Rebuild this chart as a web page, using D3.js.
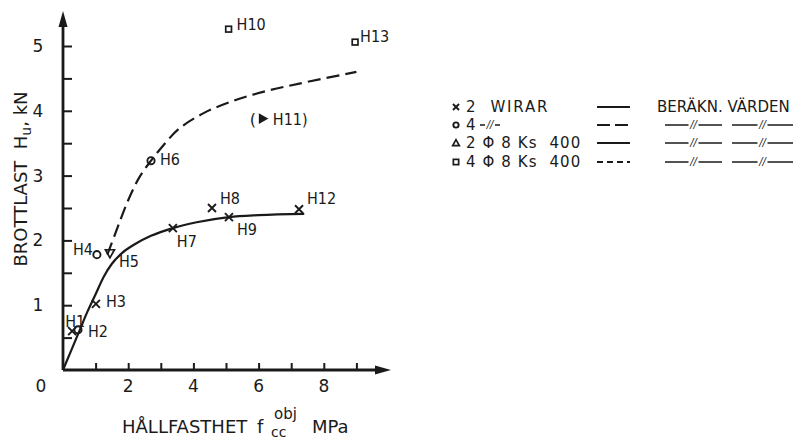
<!DOCTYPE html>
<html>
<head>
<meta charset="utf-8">
<script src="https://cdn.jsdelivr.net/npm/d3@7"></script>
<style>
  body { margin: 0; background: #fff; }
  svg { font-family: "DejaVu Sans", sans-serif; }
  svg text { fill: #1a1a1a; white-space: pre; }
</style>
</head>
<body>
<div id="chart"></div>
<script>
// measured points, [x MPa, y kN, name]
var wirar2 = [[0.28, 0.60, 'H1'], [1.01, 1.02, 'H3'], [3.37, 2.19, 'H7'], [4.57, 2.50, 'H8'], [5.09, 2.36, 'H9'], [7.24, 2.48, 'H12']];
var wirar4 = [[0.46, 0.62, 'H2'], [1.04, 1.78, 'H4'], [2.70, 3.23, 'H6']];
var ks2 = [[1.44, 1.80, 'H5'], [6.13, 3.88, 'H11']];
var ks4 = [[5.08, 5.26, 'H10'], [8.96, 5.06, 'H13']];

// calculated curves
var calcSolid = [[0, 0], [0.25, 0.3], [0.5, 0.6], [0.75, 0.9], [1.0, 1.17], [1.25, 1.44], [1.5, 1.64], [1.8, 1.8], [2.2, 1.94], [2.7, 2.07], [3.37, 2.19], [4.1, 2.28], [5.09, 2.36], [6.0, 2.39], [7.4, 2.41]];
var calcDashed = [[1.36, 1.78], [1.6, 2.1], [2.0, 2.62], [2.35, 2.98], [2.7, 3.23], [3.05, 3.45], [3.55, 3.72], [4.3, 3.96], [5.2, 4.15], [6.2, 4.3], [7.25, 4.42], [9.0, 4.6]];

var xTicks = [1, 2, 3, 4, 5, 6, 7, 8, 9];
var xTickLabels = [2, 4, 6, 8];
var yTicks = [0.5, 1, 1.5, 2, 2.5, 3, 3.5, 4, 4.5, 5];
var yTickLabels = [1, 2, 3, 4, 5];

var legendNames = ['2  WIRAR', '4', '2 \u03A6 8 Ks  400', '4 \u03A6 8 Ks  400'];
var legendMarks = ['x', 'o', 'tri', 'sq'];
var legendDash = [null, '13,5', null, '6,4'];

// label offsets (layout only)
var labelPos = {
  H1: [-7, -4, 'start'], H2: [10, 7, 'start'], H3: [10, 3, 'start'], H4: [-4, 0, 'end'],
  H5: [9, 14, 'start'], H6: [9, 4, 'start'], H7: [4, 19, 'start'], H8: [8, -4, 'start'],
  H9: [8, 18, 'start'], H10: [8, 1, 'start'], H11: [10, 6, 'start'], H12: [8, -5, 'start'],
  H13: [5, 0, 'start']
};

var W = 794, H = 441;
var ink = '#1a1a1a';
var svg = d3.select('#chart').append('svg').attr('width', W).attr('height', H);

var x = d3.scaleLinear().domain([0, 10]).range([63, 389]);
var y = d3.scaleLinear().domain([0, 5]).range([370, 46]);

// axes lines + arrows
svg.append('line').attr('x1', x(0)).attr('y1', y(0)).attr('x2', x(0)).attr('y2', 22)
  .attr('stroke', ink).attr('stroke-width', 2.8);
svg.append('line').attr('x1', x(0)).attr('y1', y(0)).attr('x2', 380).attr('y2', y(0))
  .attr('stroke', ink).attr('stroke-width', 2.8);
svg.append('path').attr('d', `M${x(0)},11 L${x(0) - 4.5},27 L${x(0) + 4.5},27 Z`).attr('fill', ink);
svg.append('path').attr('d', `M391,${y(0)} L375,${y(0) - 4.5} L375,${y(0) + 4.5} Z`).attr('fill', ink);

// y ticks (inside, to the right)
svg.append('g').attr('transform', `translate(${x(0)},0)`)
  .call(d3.axisRight(y).tickValues(yTicks).tickSize(9).tickFormat(''))
  .call(g => g.select('.domain').remove())
  .call(g => g.selectAll('line').attr('stroke', ink).attr('stroke-width', 2));
svg.append('g').selectAll('text').data(yTickLabels).join('text')
  .attr('x', 38).attr('y', d => y(d) + 6)
  .attr('text-anchor', 'middle').attr('font-size', 17).text(d => d);

// x ticks (inside, upward)
svg.append('g').attr('transform', `translate(0,${y(0)})`)
  .call(d3.axisTop(x).tickValues(xTicks).tickSize(7).tickFormat(''))
  .call(g => g.select('.domain').remove())
  .call(g => g.selectAll('line').attr('stroke', ink).attr('stroke-width', 2));
svg.append('g').selectAll('text').data(xTickLabels).join('text')
  .attr('x', d => x(d)).attr('y', 392)
  .attr('text-anchor', 'middle').attr('font-size', 17).text(d => d);
svg.append('text').attr('x', 41).attr('y', 392).attr('text-anchor', 'middle')
  .attr('font-size', 17).text('0');

// axis titles
var yt = svg.append('text').attr('transform', 'translate(27,179) rotate(-90)')
  .attr('text-anchor', 'middle').attr('font-size', 18);
yt.append('tspan').text('BROTTLAST  H');
yt.append('tspan').attr('font-size', 14).attr('dy', 4).text('u');
yt.append('tspan').attr('dy', -4).text(', kN');

svg.append('text').attr('x', 122).attr('y', 433).attr('font-size', 18).text('H\u00C5LLFASTHET');
svg.append('text').attr('x', 257).attr('y', 433).attr('font-size', 18).text('f');
svg.append('text').attr('x', 274).attr('y', 419).attr('font-size', 15).text('obj');
svg.append('text').attr('x', 271).attr('y', 437).attr('font-size', 14).text('cc');
svg.append('text').attr('x', 312).attr('y', 433).attr('font-size', 18).text('MPa');

// curves
var line = d3.line().x(d => x(d[0])).y(d => y(d[1])).curve(d3.curveMonotoneX);
svg.append('path').datum(calcSolid).attr('d', line)
  .attr('fill', 'none').attr('stroke', ink).attr('stroke-width', 2.2);
svg.append('path').datum(calcDashed).attr('d', d3.line().x(d => x(d[0])).y(d => y(d[1])).curve(d3.curveCatmullRom))
  .attr('fill', 'none').attr('stroke', ink).attr('stroke-width', 2.2).attr('stroke-dasharray', '13,6');

// markers
function drawMark(g, type, cx, cy, s) {
  if (type === 'x') {
    g.append('path').attr('d', `M${cx - s},${cy - s} L${cx + s},${cy + s} M${cx - s},${cy + s} L${cx + s},${cy - s}`)
      .attr('stroke', ink).attr('stroke-width', 1.9).attr('fill', 'none');
  } else if (type === 'o') {
    g.append('circle').attr('cx', cx).attr('cy', cy).attr('r', s * 0.8)
      .attr('stroke', ink).attr('stroke-width', 1.9).attr('fill', 'none');
  } else if (type === 'tri') {
    g.append('path').attr('d', `M${cx},${cy - s} L${cx - s},${cy + s * 0.8} L${cx + s},${cy + s * 0.8} Z`)
      .attr('stroke', ink).attr('stroke-width', 1.7).attr('fill', 'none');
  } else if (type === 'trid') {
    g.append('path').attr('d', `M${cx},${cy + s} L${cx - s},${cy - s * 0.8} L${cx + s},${cy - s * 0.8} Z`)
      .attr('stroke', ink).attr('stroke-width', 1.7).attr('fill', 'none');
  } else if (type === 'trir') {
    g.append('path').attr('d', `M${cx + s},${cy} L${cx - s * 0.8},${cy - s} L${cx - s * 0.8},${cy + s} Z`)
      .attr('stroke', ink).attr('stroke-width', 1.6).attr('fill', ink);
  } else if (type === 'sq') {
    g.append('rect').attr('x', cx - s * 0.8).attr('y', cy - s * 0.8).attr('width', s * 1.6).attr('height', s * 1.6)
      .attr('stroke', ink).attr('stroke-width', 1.7).attr('fill', 'none');
  }
}

var pts = svg.append('g');
wirar2.forEach(d => drawMark(pts, 'x', x(d[0]), y(d[1]), 4));
wirar4.forEach(d => drawMark(pts, 'o', x(d[0]), y(d[1]), 4.5));
drawMark(pts, 'trid', x(ks2[0][0]), y(ks2[0][1]), 4.5);
drawMark(pts, 'trir', x(ks2[1][0]), y(ks2[1][1]), 4);
ks4.forEach(d => drawMark(pts, 'sq', x(d[0]), y(d[1]), 3.6));

// point labels
var allPts = wirar2.concat(wirar4, ks2, ks4);
svg.append('g').selectAll('text').data(allPts).join('text')
  .attr('x', d => x(d[0]) + labelPos[d[2]][0])
  .attr('y', d => y(d[1]) + labelPos[d[2]][1])
  .attr('text-anchor', d => labelPos[d[2]][2])
  .attr('font-family', '"DejaVu Sans Condensed", "DejaVu Sans", sans-serif')
  .attr('font-size', 16)
  .text(d => d[2] === 'H11' ? 'H11)' : d[2]);
svg.append('text').attr('x', x(ks2[1][0]) - 13).attr('y', y(ks2[1][1]) + 6)
  .attr('font-size', 16).text('(');

// legend
var legRowY = [107, 125, 143, 162];
var leg = svg.append('g');
legendNames.forEach(function(name, i) {
  var ly = legRowY[i];
  drawMark(leg, legendMarks[i], 456, ly, legendMarks[i] === 'x' ? 3 : 3.3);
  leg.append('text').attr('x', 466).attr('y', ly + 5).attr('font-size', 15)
    .attr('letter-spacing', i === 0 ? 1.8 : 1.1).text(name);
  var ls = leg.append('line').attr('x1', 597).attr('x2', 630).attr('y1', ly).attr('y2', ly)
    .attr('stroke', ink).attr('stroke-width', 2);
  if (legendDash[i]) ls.attr('stroke-dasharray', legendDash[i]);
});
leg.append('text').attr('x', 657).attr('y', legRowY[0] + 5).attr('font-size', 15).text('BER\u00C4KN. V\u00C4RDEN');

// ditto marks
function ditto(x0, x1, yy) {
  var mid = (x0 + x1) / 2;
  leg.append('line').attr('x1', x0).attr('x2', mid - 5).attr('y1', yy).attr('y2', yy)
    .attr('stroke', ink).attr('stroke-width', 1.5);
  leg.append('line').attr('x1', mid + 5).attr('x2', x1).attr('y1', yy).attr('y2', yy)
    .attr('stroke', ink).attr('stroke-width', 1.5);
  leg.append('text').attr('x', mid).attr('y', yy + 3).attr('text-anchor', 'middle')
    .attr('font-size', 10).attr('font-style', 'italic').text('//');
}
ditto(480, 500, legRowY[1]);
[1, 2, 3].forEach(function(i) {
  ditto(665, 722, legRowY[i]);
  ditto(732, 793, legRowY[i]);
});
</script>
</body>
</html>
